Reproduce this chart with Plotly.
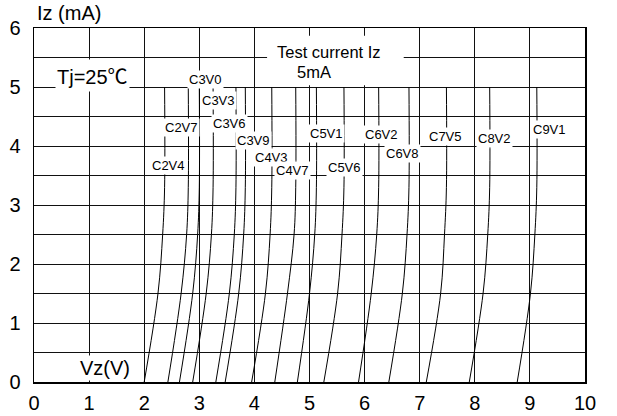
import plotly.graph_objects as go

# ---------------- data ----------------
devices = ["C2V4", "C2V7", "C3V0", "C3V3", "C3V6", "C3V9", "C4V3", "C4V7",
           "C5V1", "C5V6", "C6V2", "C6V8", "C7V5", "C8V2", "C9V1"]

iz_levels = [0.0, 1.5, 2.5, 3.3, 5.0]

vz_at_0 = [2.00, 2.43, 2.64, 2.88, 3.30, 3.47, 3.95, 4.37,
           4.78, 5.26, 5.89, 6.44, 7.12, 7.90, 8.77]
vz_at_15 = [2.25, 2.67, 2.88, 3.125, 3.545, 3.715, 4.20, 4.60,
            5.00, 5.51, 6.12, 6.685, 7.38, 8.15, 9.01]
vz_at_25 = [2.335, 2.77, 2.97, 3.22, 3.635, 3.805, 4.285, 4.72,
            5.095, 5.59, 6.22, 6.77, 7.45, 8.235, 9.09]
vz_top = [2.37, 2.80, 3.00, 3.25, 3.665, 3.835, 4.315, 4.75,
          5.125, 5.625, 6.255, 6.805, 7.485, 8.27, 9.125]

# label anchor positions (Vz, Iz)
label_vz = [2.447, 2.681, 3.118, 3.344, 3.545, 3.986, 4.317, 4.692,
            5.308, 5.634, 6.310, 6.685, 7.475, 8.351, 9.362]
label_iz = [3.664, 4.317, 5.123, 4.775, 4.377, 4.088, 3.808, 3.579,
            4.207, 3.630, 4.190, 3.868, 4.156, 4.134, 4.283]

x_ticks = list(range(0, 11))
y_ticks = list(range(0, 7))

FONT = "Liberation Sans, Arial, Noto Sans CJK SC, DejaVu Sans, sans-serif"
GRID = "#111111"

fig = go.Figure()

for i, name in enumerate(devices):
    xs = [vz_at_0[i], vz_at_15[i], vz_at_25[i], vz_top[i], vz_top[i]]
    fig.add_trace(go.Scatter(
        x=xs, y=iz_levels, mode="lines", name=name,
        line=dict(color="black", width=1, shape="spline", smoothing=1.0),
        showlegend=False, hoverinfo="skip"))

annotations = []
for name, lx, ly in zip(devices, label_vz, label_iz):
    annotations.append(dict(
        x=lx, y=ly, xref="x", yref="y", text=name, showarrow=False,
        font=dict(family=FONT, size=13, color="black"),
        bgcolor="white", borderpad=1))

annotations += [
    dict(x=0.002, y=1.042, xref="paper", yref="paper", text="Iz (mA)",
         showarrow=False, xanchor="left", yanchor="middle",
         font=dict(family=FONT, size=20, color="black")),
    dict(x=1.065, y=5.2, xref="x", yref="y",
         text="Tj=25<span style=\"font-family:'Noto Sans CJK SC'\">℃</span>",
         showarrow=False, font=dict(family=FONT, size=20, color="black"),
         bgcolor="white", borderpad=1),
    dict(x=1.282, y=0.237, xref="x", yref="y", text="Vz(V)",
         showarrow=False, font=dict(family=FONT, size=20, color="black"),
         bgcolor="white", borderpad=1),
    dict(x=5.35, y=5.6, xref="x", yref="y", text="Test current Iz",
         showarrow=False, font=dict(family=FONT, size=16.5, color="black")),
    dict(x=5.073, y=5.26, xref="x", yref="y", text="5mA",
         showarrow=False, font=dict(family=FONT, size=16.5, color="black")),
]

shapes = [
    dict(type="rect", xref="x", yref="y", x0=4.23, x1=6.71, y0=5.03, y1=5.87,
         fillcolor="white", line=dict(width=0), layer="above"),
]

fig.update_layout(
    width=617, height=416,
    margin=dict(l=34, r=31.5, t=28, b=34),
    paper_bgcolor="white", plot_bgcolor="white",
    annotations=annotations, shapes=shapes,
    font=dict(family=FONT, color="black"),
)

fig.update_xaxes(
    range=[0, 10], tickmode="array", tickvals=x_ticks,
    ticktext=[str(t) for t in x_ticks], automargin=False,
    showgrid=True, gridcolor=GRID, gridwidth=1, zeroline=False,
    showline=True, mirror=True, linecolor="black", linewidth=1.5,
    ticks="", tickfont=dict(family=FONT, size=20, color="black"),
    ticklabelstandoff=2,
)
fig.update_yaxes(
    range=[0, 6], tickmode="array", tickvals=y_ticks,
    ticktext=[str(t) for t in y_ticks], automargin=False,
    showgrid=True, gridcolor=GRID, gridwidth=1, zeroline=False,
    minor=dict(dtick=0.5, tick0=0, showgrid=True, gridcolor=GRID, gridwidth=1),
    showline=True, mirror=True, linecolor="black", linewidth=1.5,
    ticks="", tickfont=dict(family=FONT, size=20, color="black"),
    ticklabelstandoff=8,
)

# remove the default 8px page margin so the figure fills the window exactly
fig.write_html("out.html",
               config={"displayModeBar": False, "staticPlot": True},
               post_script="document.body.style.margin='0';"
                           "document.body.style.overflow='hidden';")
